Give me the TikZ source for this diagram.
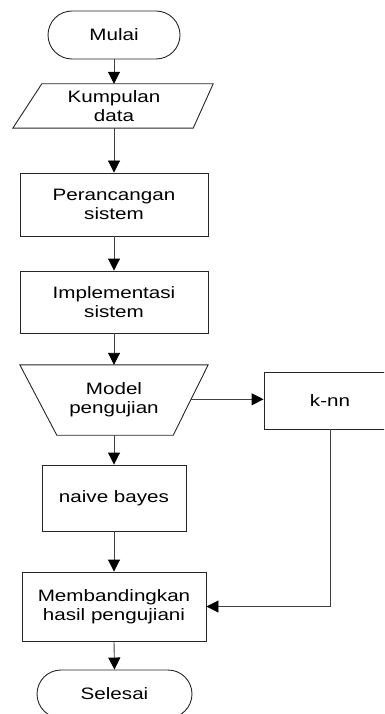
\documentclass[tikz,border=0pt]{standalone}
\usepackage{fontspec}
\setmainfont{Liberation Sans}[FakeStretch=1.25]
\usetikzlibrary{arrows.meta,calc}
\begin{document}
\begin{tikzpicture}[x=1pt,y=1pt,
  every node/.style={font=\fontsize{16.5}{19}\selectfont, align=center, inner sep=0pt},
  boxnode/.style={draw=black!85, line width=0.9pt, rectangle},
  termnode/.style={draw=black!85, line width=0.9pt, rectangle, rounded corners=24pt},
  plain/.style={rectangle},
  shapeline/.style={draw=black!85, line width=0.9pt, line join=miter},
  flow/.style={draw=black!75, line width=0.9pt, -{Triangle[length=12pt,width=12pt,color=black]}}
]
\useasboundingbox (0,0) rectangle (384,-714);
\clip (0,0) rectangle (384,-714);

\node[termnode, minimum width=132pt, minimum height=48pt] (mulai) at (114,-35) {Mulai};

\node[plain, minimum width=202pt, minimum height=44pt] (data) at (114,-106) {Kumpulan\\data};
\draw[shapeline] ($(data.north west)+(29,0)$) -- ($(data.north east)+(-2,0)$)
  -- ($(data.south east)+(-22,0)$) -- (data.south west) -- cycle;

\node[boxnode, minimum width=188pt, minimum height=63pt] (pr) at (114,-204.5) {Perancangan\\sistem};
\node[boxnode, minimum width=188pt, minimum height=62pt] (im) at (114,-302) {Implementasi\\sistem};

\node[plain, minimum width=188pt, minimum height=70pt] (model) at (114,-400) {Model\\pengujian};
\coordinate (mse) at ($(model.south east)+(-35,0)$);
\coordinate (msw) at ($(model.south west)+(37,0)$);
\draw[shapeline] (model.north west) -- (model.north east) -- (mse) -- (msw) -- cycle;
\coordinate (mr) at ($(model.north east)!0.49!(mse)$);

\node[boxnode, minimum width=132pt, minimum height=57pt] (knn) at (330,-400.5) {k-nn};
\node[boxnode, minimum width=144pt, minimum height=66pt] (nb) at (114,-498) {naive bayes};
\node[boxnode, minimum width=184pt, minimum height=69pt] (mb) at (114,-606.5) {Membandingkan\\hasil pengujiani};
\node[termnode, minimum width=155pt, minimum height=48pt] (sel) at (114.5,-694) {Selesai};

\draw[flow] (mulai.south) -- (data.north);
\draw[flow] (data.south) -- (pr.north);
\draw[flow] (pr.south) -- (im.north);
\draw[flow] (im.south) -- (model.north);
\draw[flow] (model.south) -- (nb.north);
\draw[flow] (mr) -- (mr -| knn.west);
\draw[flow] (nb.south) -- (mb.north);
\draw[flow] (knn.south) |- (mb.east);
\draw[flow] (mb.south) -- (sel.north);
\end{tikzpicture}
\end{document}
